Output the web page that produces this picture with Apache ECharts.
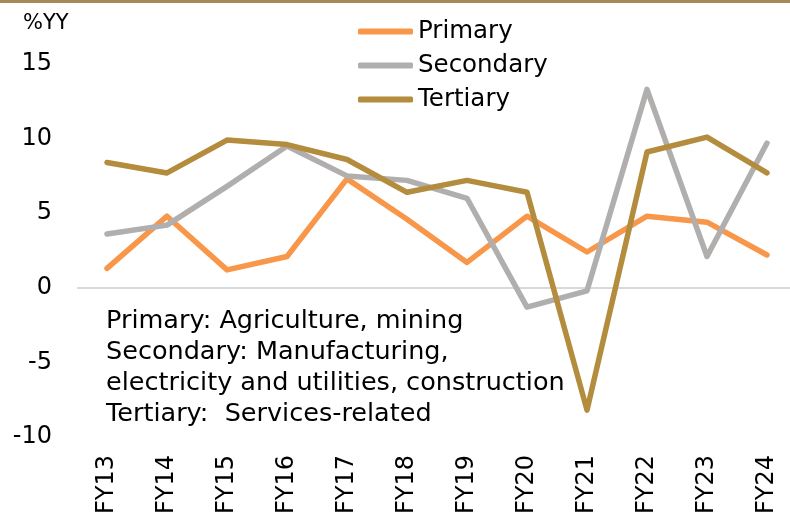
<!DOCTYPE html>
<html>
<head>
<meta charset="utf-8">
<script src="https://cdn.jsdelivr.net/npm/echarts@6/dist/echarts.min.js"></script>
<style>html,body{margin:0;padding:0;background:#fff;}#c{width:790px;height:518px;}</style>
</head>
<body>
<div id="c"></div>
<script>
const categories = ['FY13','FY14','FY15','FY16','FY17','FY18','FY19','FY20','FY21','FY22','FY23','FY24'];
const primary   = [1.3, 4.8, 1.2, 2.1, 7.3, 4.6, 1.7, 4.8, 2.4, 4.8, 4.4, 2.2];
const secondary = [3.6, 4.2, 6.8, 9.5, 7.5, 7.2, 6.0, -1.3, -0.2, 13.3, 2.1, 9.7];
const tertiary  = [8.4, 7.7, 9.9, 9.6, 8.6, 6.4, 7.2, 6.4, -8.2, 9.1, 10.1, 7.7];
const seriesNames = ['Primary','Secondary','Tertiary'];
const yTicks = {min:-10, max:15, interval:5};
const noteLines = ['Primary: Agriculture, mining','Secondary: Manufacturing,','electricity and utilities, construction','Tertiary:  Services-related'];

const colors = ['#F8974A','#B1AEAE','#B38C3D'];
const font = 'DejaVu Sans';
const chart = echarts.init(document.getElementById('c'), null, {renderer:'canvas'});
const mk = (name, data, color) => ({
  name, type:'line', data, symbol:'none', smooth:false, xAxisIndex:0, yAxisIndex:0, z:3,
  lineStyle:{color, width:5.5, cap:'round', join:'round'}, itemStyle:{color}
});
const T = 'rgba(0,0,0,0)';
chart.setOption({
  animation:false,
  backgroundColor:'#fff',
  grid:[
    {left:107, top:64, width:660, height:373, containLabel:false},
    {left:77, top:64, right:0, height:373, containLabel:false}
  ],
  legend:{
    orient:'vertical', left:353, top:14, itemGap:9,
    itemWidth:55, itemHeight:6, icon:'roundRect',
    textStyle:{fontFamily:font, fontSize:24.5, color:'#000', lineHeight:24},
    data:seriesNames
  },
  xAxis:[
    {
      type:'category', data:categories, boundaryGap:false, gridIndex:0,
      axisLine:{show:false, onZero:false}, axisTick:{show:false},
      axisLabel:{rotate:90, margin:18, fontFamily:font, fontSize:24, color:'#000'}
    },
    {type:'value', gridIndex:1, show:false, min:0, max:1}
  ],
  yAxis:[
    {
      type:'value', gridIndex:0, min:yTicks.min, max:yTicks.max, interval:yTicks.interval,
      axisLine:{show:false}, axisTick:{show:false},
      axisLabel:{margin:55, fontFamily:font, fontSize:24, color:'#000'},
      splitLine:{show:false}
    },
    {
      type:'value', gridIndex:1, min:yTicks.min, max:yTicks.max, interval:yTicks.interval,
      axisLine:{show:false}, axisTick:{show:false}, axisLabel:{show:false},
      splitLine:{show:true, lineStyle:{width:2, color:[T,T,'#D9D9D9',T,T,T]}}
    }
  ],
  graphic:[
    {type:'rect', left:0, top:0, shape:{width:790, height:3}, style:{fill:'#A38A58'}},
    {type:'text', left:23, top:13, style:{text:'%YY', font:'21px "DejaVu Sans"', fill:'#000'}},
    {type:'text', left:106, top:306, style:{text:noteLines.join('\n'), font:'25.5px "DejaVu Sans"', lineHeight:31, fill:'#000'}}
  ],
  series:[mk(seriesNames[0], primary, colors[0]), mk(seriesNames[1], secondary, colors[1]), mk(seriesNames[2], tertiary, colors[2])]
});
</script>
</body>
</html>
